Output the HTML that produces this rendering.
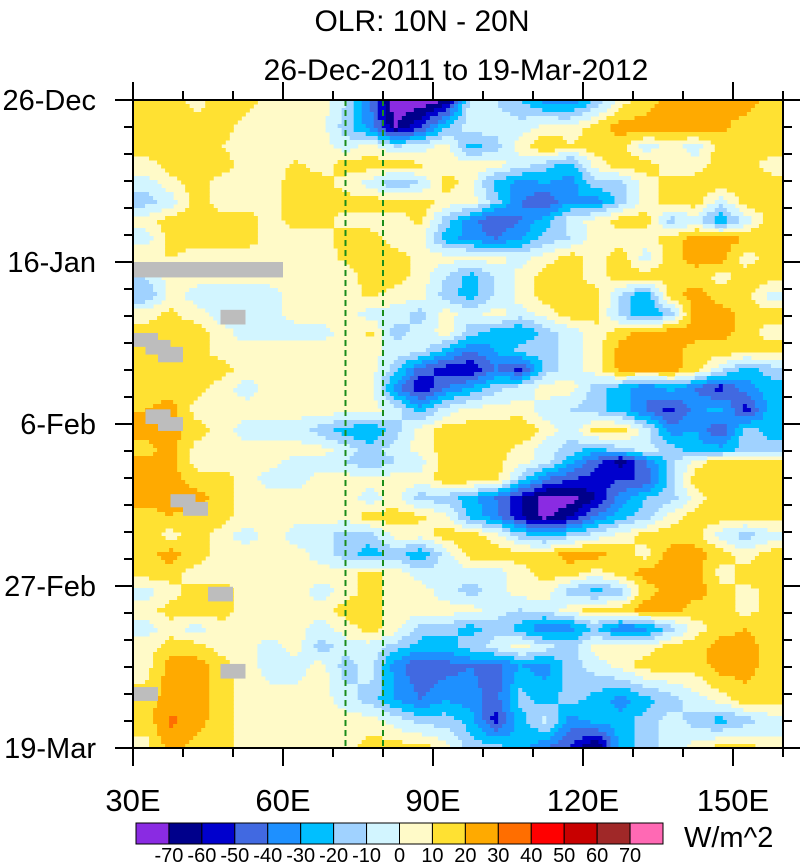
<!DOCTYPE html>
<html><head><meta charset="utf-8">
<style>
html,body{margin:0;padding:0;background:#fff;}
body{width:800px;height:863px;overflow:hidden;font-family:"Liberation Sans",sans-serif;}
</style></head>
<body>
<svg id="chart" width="800" height="863" viewBox="0 0 800 863" xmlns="http://www.w3.org/2000/svg" font-family="Liberation Sans, sans-serif">
<text x="422" y="31" text-anchor="middle" font-size="30">OLR: 10N - 20N</text>
<text x="456" y="80" text-anchor="middle" font-size="30">26-Dec-2011 to 19-Mar-2012</text>
<g id="field"></g>
<g id="missing"></g>
<g id="refs"></g>
<g id="axes"></g>
<g id="cbar"></g>
<text x="684" y="847" font-size="29">W/m^2</text>
</svg>
<script>
// ---- data ----
const lonCenters = [32.5,37.5,42.5,47.5,52.5,57.5,62.5,67.5,72.5,77.5,82.5,87.5,92.5,97.5,102.5,107.5,112.5,117.5,122.5,127.5,132.5,137.5,142.5,147.5,152.5,157.5];
const dayCenters = [0,3.6,6.0,8.4,10.8,13.2,15.6,18.0,20.4,22.9,25.3,27.7,30.1,32.5,34.9,37.3,40.2,42.8,45.4,46.8,49.2,51.6,54.0,56.4,58.9,61.3,63.7,66.1,68.5,70.9,73.3,77.8,80.4,84];
const olr = [
[15,15,5,15,15,5,5,5,-10,-40,-80,-78,-70,-5,-10,-20,-35,-40,-20,5,15,25,25,25,25,15],
[15,20,15,15,5,5,5,5,-15,-35,-70,-50,-20,-5,-5,-5,5,5,15,25,25,25,25,22,15,15],
[15,15,15,10,5,5,5,5,-5,5,-10,-5,5,-25,-15,5,20,10,15,15,-5,5,-5,15,15,15],
[5,15,15,15,5,5,12,5,15,15,15,12,5,5,5,-5,-15,-25,5,15,15,5,5,15,15,5],
[-5,5,15,5,5,5,15,15,5,-5,-20,-10,15,5,-25,-35,-30,-35,-15,-15,5,15,15,15,15,15],
[-15,-5,15,5,5,5,15,15,15,15,15,15,5,5,-15,-40,-50,-30,-35,-15,5,15,15,-5,15,15],
[5,15,15,15,15,5,15,15,5,5,5,12,-15,-35,-50,-40,-25,-5,5,15,15,-15,-5,-30,-5,15],
[-5,15,15,15,15,5,5,5,15,15,5,5,-25,-35,-40,-30,-15,-10,5,5,5,15,25,25,20,15],
[10,10,5,5,5,5,5,5,12,15,15,5,5,5,5,-5,5,15,5,15,-5,15,25,25,5,15],
[-10,5,5,5,5,5,5,5,5,15,15,5,-10,-25,-10,5,15,15,5,15,15,15,15,5,15,15],
[-20,5,-5,-10,-5,-5,5,5,5,12,5,5,-15,-25,-10,5,15,15,15,-10,-30,15,25,15,15,-5],
[5,12,5,-5,-5,-5,5,5,5,-5,-5,-15,5,-5,5,-5,5,15,15,-15,-30,-15,25,25,15,15],
[15,15,15,5,-5,-5,-5,-5,5,12,-15,-5,5,-15,-25,-30,-15,-5,5,15,25,25,25,25,15,5],
[15,15,15,5,5,5,5,5,5,5,-5,-5,-25,-40,-30,-15,-15,-5,5,25,25,25,15,15,15,15],
[15,20,15,15,5,5,5,5,5,5,-15,-45,-55,-60,-40,-55,-15,-5,5,25,25,25,15,-5,-25,-15],
[15,15,15,5,-5,5,5,5,5,5,-35,-60,-40,-30,-15,-5,5,5,-15,-25,-40,-25,-40,-55,-35,-25],
[20,25,5,5,5,5,5,5,5,5,-5,-25,-5,5,5,5,-5,-10,-15,-25,-40,-55,-35,-25,-55,-25],
[25,25,15,5,-5,-5,-5,-15,-25,-30,-15,5,15,15,15,20,5,-5,15,15,-5,-35,-30,-50,-15,-25],
[15,25,5,5,5,5,5,5,-5,-15,-5,5,15,15,15,5,-5,-15,-25,-15,-5,-15,-25,-25,-15,-15],
[25,25,5,5,5,5,-5,-5,-10,-20,-10,-5,15,15,12,5,-5,-25,-45,-65,-40,-15,5,15,15,15],
[25,25,15,15,5,-5,-5,5,5,5,5,5,15,15,15,-15,-40,-50,-55,-50,-50,-15,15,15,15,15],
[25,25,25,15,5,5,5,5,5,-5,5,-15,-15,-25,-40,-60,-75,-75,-60,-35,-20,-15,5,15,15,15],
[15,20,15,15,5,5,5,5,5,15,15,12,5,-25,-35,-60,-75,-60,-40,-25,-15,5,15,15,15,15],
[15,5,15,5,-5,5,-5,-5,-15,-15,5,5,15,15,5,-15,-25,-15,-5,5,15,15,15,-5,-15,-5],
[15,25,15,5,5,5,5,-5,-15,-25,-15,-30,-5,15,15,15,15,25,25,15,5,25,25,15,5,15],
[15,15,5,5,5,5,5,5,5,15,5,-5,-5,-5,-5,5,15,15,5,15,25,25,25,5,15,15],
[-5,5,15,15,5,5,5,-5,5,15,5,5,-5,-15,-5,5,5,-15,-25,-15,15,25,25,15,5,15],
[5,15,15,15,5,5,5,5,15,15,5,5,5,5,-5,-10,-5,5,15,15,25,25,15,15,5,15],
[-5,5,-5,5,5,5,5,-5,5,15,5,-15,-15,-25,-15,-25,-40,-35,-20,-40,-35,-15,5,15,20,15],
[5,15,15,5,5,-5,5,-15,-5,-5,-15,-25,-25,-15,-5,5,-5,-15,5,5,5,15,15,25,25,15],
[5,25,25,15,5,-5,-5,5,-15,-5,-35,-50,-45,-40,-45,-30,-35,-15,-5,5,15,15,15,25,25,15],
[15,25,25,15,5,5,5,5,-5,-15,-30,-40,-30,-35,-45,-15,-25,-15,-25,-35,-25,-15,-5,5,15,15],
[15,32,25,15,5,5,5,5,5,5,-5,-15,-15,-25,-55,-25,-5,-35,-25,-25,-15,-5,-15,-25,-15,-5],
[5,25,15,15,5,5,5,5,5,15,15,15,5,-15,-15,-25,-40,-50,-75,-25,-15,-5,5,15,15,5]
];
// missing patches: [lon0, lon1, day0, day1]
const missLon0 = [30,47.5,30,32.5,35,32.5,35,37.5,40,45,47.5,30];
const missLon1 = [60,52.5,35,37.5,40,37.5,40,42.5,45,50,52.5,35];
const missDay0 = [21,27.2,30.2,31.1,32,40.1,41.1,51.1,52.1,63.1,73.1,76.1];
const missDay1 = [23,29.1,32,33,34,42,42.9,52.8,53.9,65,75,77.9];
const levelLabels = ["-70","-60","-50","-40","-30","-20","-10","0","10","20","30","40","50","60","70"];
const levelColors = ["#8a2be2","#00008b","#0000cd","#4169e1","#1e90ff","#00bfff","#a0d2ff","#d2f5ff","#fffac8","#ffe132","#ffaa00","#ff6e00","#ff0000","#c80000","#a02828","#ff69b4"];
const dateLabels = ["26-Dec","16-Jan","6-Feb","27-Feb","19-Mar"];
const dateTicks = [0,21,42,63,84];
const lonLabels = ["30E","60E","90E","120E","150E"];
const lonTicks = [30,60,90,120,150];

// ---- geometry ----
const X0=133,X1=783,Y0=100,Y1=748,LON0=30,LON1=160,D0=0,D1=84;
const xs = lon => X0+(lon-LON0)/(LON1-LON0)*(X1-X0);
const ys = d => Y0+(d-D0)/(D1-D0)*(Y1-Y0);
const NS="http://www.w3.org/2000/svg";
function mk(tag, attrs, parent){const e=document.createElementNS(NS,tag);for(const k in attrs)e.setAttribute(k,attrs[k]);parent.appendChild(e);return e;}
function levelIndex(v){return Math.max(0,Math.min(15,Math.floor(v/10)+8));}
function interp(lon, day){
  const nc=lonCenters.length, nr=dayCenters.length;
  let fc=(lon-lonCenters[0])/(lonCenters[1]-lonCenters[0]); fc=Math.max(0,Math.min(nc-1,fc));
  const c0=Math.min(nc-2,Math.floor(fc)), tc=fc-c0;
  let r0=0;
  while(r0<nr-2 && dayCenters[r0+1]<=day) r0++;
  let tr=(day-dayCenters[r0])/(dayCenters[r0+1]-dayCenters[r0]);
  tr=Math.max(0,Math.min(1,tr));
  const a=olr[r0][c0], b=olr[r0][c0+1], c=olr[r0+1][c0], d=olr[r0+1][c0+1];
  return (a*(1-tc)+b*tc)*(1-tr)+(c*(1-tc)+d*tc)*tr;
}
const field=document.getElementById('field');
mk('rect',{x:X0,y:Y0,width:X1-X0,height:Y1-Y0,fill:'#fffac8'},field);
const NX=162, NY=162;
for(let j=0;j<NY;j++){
  const dA=D0+(D1-D0)*j/NY, dB=D0+(D1-D0)*(j+1)/NY, dm=(dA+dB)/2;
  let runStart=0, runIdx=-1;
  for(let i=0;i<=NX;i++){
    let idx=-2;
    if(i<NX){const lm=LON0+(LON1-LON0)*(i+0.5)/NX; idx=levelIndex(interp(lm,dm));}
    if(idx!==runIdx){
      if(runIdx>=0 && runIdx!==8){
        const la=LON0+(LON1-LON0)*runStart/NX, lb=LON0+(LON1-LON0)*i/NX;
        const r=mk('rect',{x:xs(la).toFixed(2),y:ys(dA).toFixed(2),width:(xs(lb)-xs(la)+0.5).toFixed(2),height:(ys(dB)-ys(dA)+0.5).toFixed(2),fill:levelColors[runIdx]},field);
        
        
      }
      runStart=i; runIdx=idx;
    }
  }
}
const miss=document.getElementById('missing');
for(let k=0;k<missLon0.length;k++){
  const r=mk('rect',{x:xs(missLon0[k]),y:ys(missDay0[k]),width:xs(missLon1[k])-xs(missLon0[k]),height:ys(missDay1[k])-ys(missDay0[k]),fill:'#bdbdbd'},miss);
  
  
}
const refs=document.getElementById('refs');
[72.5,80].forEach(l=>{
  const ln=mk('line',{x1:xs(l),x2:xs(l),y1:Y0,y2:Y1,stroke:'#1a8c1a','stroke-width':2,'stroke-dasharray':'6,4'},refs);
  
  
});
// axes
const ax=document.getElementById('axes');
mk('rect',{x:X0,y:Y0,width:X1-X0,height:Y1-Y0,fill:'none',stroke:'#000','stroke-width':2},ax);
for(let d=0;d<=84.01;d+=3.5){
  const major = Math.abs(d/21-Math.round(d/21))<1e-6;
  const len = major?18:9;
  mk('line',{x1:X0-len,x2:X0,y1:ys(d),y2:ys(d),stroke:'#000','stroke-width':2},ax);
  mk('line',{x1:X1,x2:X1+len,y1:ys(d),y2:ys(d),stroke:'#000','stroke-width':2},ax);
}
dateTicks.forEach((d,i)=>{
  const t=mk('text',{x:96,y:ys(d)+10,'text-anchor':'end','font-size':29},ax);
  t.textContent=dateLabels[i];
  
  
});
for(let l=30;l<=160;l+=10){
  const major=(l%30===0);
  const len=major?18:9;
  mk('line',{x1:xs(l),x2:xs(l),y1:Y1,y2:Y1+len,stroke:'#000','stroke-width':2},ax);
  mk('line',{x1:xs(l),x2:xs(l),y1:Y0-len,y2:Y0,stroke:'#000','stroke-width':2},ax);
}
lonTicks.forEach((l,i)=>{
  const t=mk('text',{x:xs(l),y:811,'text-anchor':'middle','font-size':31},ax);
  t.textContent=lonLabels[i];
  
  
});
// colorbar
const cb=document.getElementById('cbar');
const CB0=136,CB1=663,CBY=823,CBH=21,bw=(CB1-CB0)/levelColors.length;
levelColors.forEach((c,i)=>{
  const r=mk('rect',{x:CB0+i*bw,y:CBY,width:bw,height:CBH,fill:c,stroke:'#000','stroke-width':1},cb);
  
  
});
levelLabels.forEach((s,i)=>{
  const t=mk('text',{x:CB0+(i+1)*bw,y:862,'text-anchor':'middle','font-size':20},cb);
  t.textContent=s;
  
  
});
</script>
</body></html>
